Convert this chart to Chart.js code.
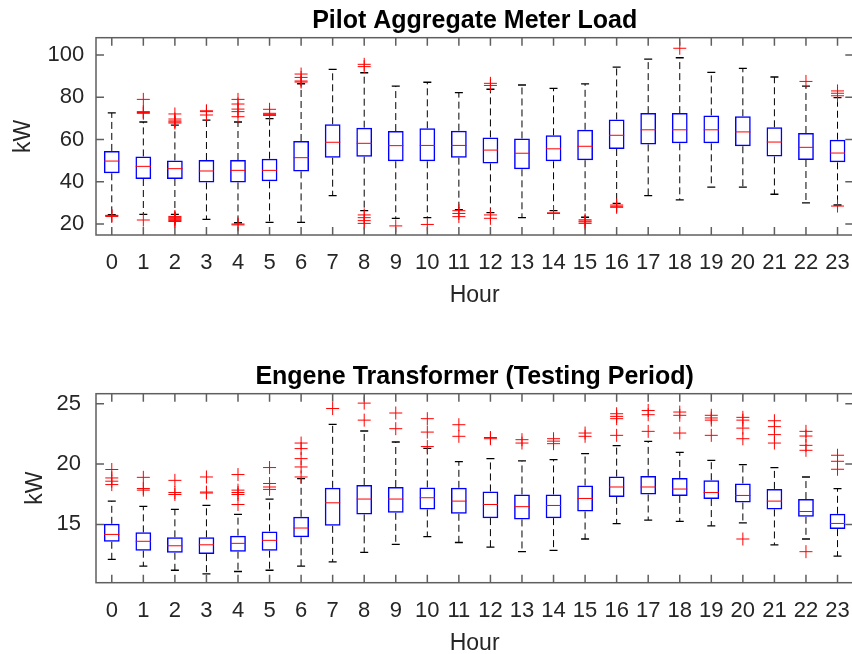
<!DOCTYPE html>
<html>
<head>
<meta charset="utf-8">
<script src="https://cdn.jsdelivr.net/npm/chart.js@4.4.1/dist/chart.umd.min.js"></script>
<style>
  html, body { margin: 0; padding: 0; background: #fff; overflow: hidden; }
  canvas { position: absolute; left: 0; }
</style>
</head>
<body>
<canvas id="loadChart" width="865" height="327" style="top:0px"></canvas>
<canvas id="engeneChart" width="865" height="327" style="top:356px"></canvas>
<script>
const hours = [0, 1, 2, 3, 4, 5, 6, 7, 8, 9, 10, 11, 12, 13, 14, 15, 16, 17, 18, 19, 20, 21, 22, 23];

// Pilot Aggregate Meter Load (kW)
const loadLo  = [24.4, 24.6, 24.6, 22.2, 20.6, 20.8, 20.8, 33.4, 26.3, 22.7, 23.0, 26.8, 25.4, 23.0, 26.3, 23.2, 29.8, 33.4, 31.4, 37.5, 37.5, 34.1, 30.0, 29.0];
const loadQ1  = [44.0, 41.3, 41.3, 39.7, 39.7, 40.2, 44.9, 51.4, 51.9, 49.7, 49.7, 51.4, 48.7, 45.9, 49.7, 50.2, 55.5, 57.7, 58.2, 58.2, 56.8, 52.0, 50.3, 49.2];
const loadMed = [49.8, 47.3, 46.2, 45.1, 45.4, 45.4, 51.4, 58.7, 58.2, 57.1, 57.2, 57.2, 55.0, 53.5, 55.6, 56.8, 62.0, 64.6, 64.6, 64.6, 63.6, 58.8, 56.3, 53.6];
const loadQ3  = [54.6, 52.0, 50.1, 50.3, 50.3, 50.9, 59.3, 67.2, 65.6, 64.0, 65.3, 64.2, 61.0, 60.5, 62.0, 64.6, 69.5, 72.5, 72.5, 71.4, 71.0, 65.8, 63.1, 59.9];
const loadHi  = [72.6, 68.3, 66.8, 69.2, 68.3, 69.9, 86.4, 93.2, 91.6, 85.3, 87.1, 82.2, 83.8, 85.8, 84.2, 86.3, 94.3, 98.1, 98.7, 91.8, 93.7, 89.6, 85.3, 79.8];
const loadOutHi = [
  [], [72.4, 72.8, 73.2, 79.0], [67.8, 68.3, 68.8, 69.7, 72.1], [71.6, 73.2, 73.6],
  [70.8, 73.2, 74.4, 76.8, 79.0], [71.4, 71.9, 72.4, 74.3], [87.2, 87.7, 89.4, 91.0], [],
  [94.5, 95.6], [], [], [], [85.6, 86.6], [], [], [], [], [], [103.2], [], [], [], [87.5],
  [80.7, 81.9, 83.0]
];
const loadOutLo = [
  [23.6, 23.9, 24.1], [21.9], [21.2, 21.6, 22.0, 22.4, 22.8, 23.2, 23.6], [], [19.6, 20.0],
  [], [], [], [20.3, 21.6, 23.0, 24.3], [19.1], [19.8], [23.5, 25.0, 26.3], [22.7, 24.3],
  [], [25.0, 25.3], [20.3, 21.0, 21.4, 22.0], [27.9, 28.4, 29.0], [], [], [], [], [], [],
  [28.5]
];
const loadTicks = [20, 40, 60, 80, 100];

// Engene Transformer, testing period (kW)
const engLo  = [12.1, 11.55, 11.2, 10.9, 11.1, 11.2, 11.55, 11.9, 12.69, 13.35, 13.98, 13.5, 13.12, 12.74, 12.85, 13.79, 15.07, 15.36, 15.25, 14.88, 15.13, 13.31, 13.79, 12.38];
const engQ1  = [13.56, 12.82, 12.65, 12.54, 12.74, 12.82, 13.93, 14.88, 15.83, 15.96, 16.24, 15.88, 15.52, 15.41, 15.52, 16.07, 17.28, 17.48, 17.36, 17.1, 16.82, 16.24, 15.63, 14.61];
const engMed = [14.17, 13.6, 13.23, 13.31, 13.43, 13.68, 14.7, 16.79, 17.1, 17.1, 17.21, 16.93, 16.65, 16.47, 16.57, 17.15, 18.1, 18.1, 17.93, 17.64, 17.4, 16.93, 16.07, 15.08];
const engQ3  = [15.05, 14.34, 13.93, 13.93, 14.07, 14.42, 15.63, 18.03, 18.27, 18.1, 18.06, 18.03, 17.73, 17.48, 17.48, 18.22, 18.96, 19.02, 18.85, 18.66, 18.39, 17.94, 17.1, 15.88];
const engHi  = [16.93, 16.5, 16.24, 16.57, 15.83, 17.1, 18.8, 23.29, 22.74, 21.83, 21.3, 20.2, 20.45, 20.26, 20.37, 20.87, 21.53, 21.88, 20.97, 20.31, 19.96, 19.71, 18.93, 17.97];
const engOutHi = [
  [18.3, 18.58, 18.85, 19.55], [17.84, 17.97, 18.9], [17.48, 17.64, 18.65], [17.6, 17.68, 18.93],
  [16.65, 17.48, 17.64, 17.84, 19.13], [17.9, 18.1, 18.39, 19.71], [18.93, 19.76, 20.45, 21.28, 21.74],
  [24.6], [23.64, 25.05], [22.93, 24.23], [21.45, 22.65, 23.76], [22.3, 23.26], [22.1, 22.2],
  [21.74, 22.02], [21.69, 21.9, 22.1], [22.3, 22.57], [22.38, 23.76, 23.95, 24.17],
  [22.71, 24.09, 24.44], [22.57, 24.04, 24.31], [22.38, 23.64, 23.82, 24.04],
  [22.1, 22.98, 23.64, 23.87], [21.74, 22.44, 23.1, 23.59], [21.14, 21.55, 22.32, 22.71],
  [19.57, 20.23, 20.73]
];
const engOutLo = [
  [], [], [], [], [], [], [], [], [], [], [], [], [], [], [], [], [], [], [], [], [13.79], [], [12.74], []
];
const engTicks = [15, 20, 25];

const FONT = '"Liberation Sans", Arial, Helvetica, sans-serif';
const TEXT = '#262626';

// frame with inward ticks, like the original axes box
const axesFrame = {
  id: 'axesFrame',
  afterDatasetsDraw(chart) {
    const {ctx, chartArea: a, scales: {x, y}} = chart;
    ctx.save();
    ctx.strokeStyle = '#5f5f5f';
    ctx.lineWidth = 1.5;
    ctx.strokeRect(a.left, a.top, a.right - a.left, a.bottom - a.top);
    ctx.beginPath();
    x.ticks.forEach(t => {
      const px = x.getPixelForValue(t.value);
      ctx.moveTo(px, a.bottom); ctx.lineTo(px, a.bottom - 8);
      ctx.moveTo(px, a.top); ctx.lineTo(px, a.top + 8);
    });
    y.ticks.forEach(t => {
      const py = y.getPixelForValue(t.value);
      ctx.moveTo(a.left, py); ctx.lineTo(a.left + 8, py);
      ctx.moveTo(a.right, py); ctx.lineTo(a.right - 8, py);
    });
    ctx.stroke();
    ctx.restore();
  }
};

function boxDatasets(lo, q1, med, q3, hi, outHi, outLo) {
  const whiskers = [];
  const caps = [];
  const outliers = [];
  hours.forEach((h, i) => {
    whiskers.push({x: h, y: q3[i]}, {x: h, y: hi[i]}, {x: h, y: null});
    whiskers.push({x: h, y: q1[i]}, {x: h, y: lo[i]}, {x: h, y: null});
    caps.push({x: h, y: hi[i]}, {x: h, y: lo[i]});
    outHi[i].forEach(v => outliers.push({x: h, y: v}));
    outLo[i].forEach(v => outliers.push({x: h, y: v}));
  });
  return [
    {
      type: 'line', data: whiskers, order: 4,
      borderColor: '#000', borderWidth: 1, borderDash: [7, 4],
      pointRadius: 0, spanGaps: false, fill: false
    },
    {
      type: 'bar', order: 3,
      data: hours.map((h, i) => ({x: h, y: [q1[i], q3[i]]})),
      backgroundColor: 'rgba(0,0,0,0)', borderColor: '#0000ff', borderWidth: 1.5,
      borderSkipped: false, barPercentage: 0.5, categoryPercentage: 1
    },
    {
      type: 'scatter', data: caps, order: 2,
      pointStyle: 'line', pointRadius: 4, pointHoverRadius: 4,
      borderColor: '#000', borderWidth: 1.3
    },
    {
      type: 'scatter', order: 1,
      data: hours.map((h, i) => ({x: h, y: med[i]})),
      pointStyle: 'line', pointRadius: 7.6, pointHoverRadius: 7.6,
      borderColor: '#ff0000', borderWidth: 1
    },
    {
      type: 'scatter', data: outliers, order: 0,
      pointStyle: 'cross', pointRadius: 6.5, pointHoverRadius: 6.5,
      borderColor: '#ff0000', borderWidth: 1
    }
  ];
}

function makeChart(id, cfg) {
  return new Chart(document.getElementById(id), {
    type: 'bar',
    data: { datasets: cfg.datasets },
    options: {
      responsive: false,
      animation: false,
      layout: { padding: { left: 0, right: 7, top: 0, bottom: 0 } },
      plugins: {
        legend: { display: false },
        tooltip: { enabled: false },
        title: {
          display: true, text: cfg.title, fullSize: false, color: '#000',
          font: { family: FONT, size: 25, weight: 'bold' },
          padding: { top: 6.5, bottom: 1.2 }
        }
      },
      scales: {
        x: {
          type: 'linear', min: -0.5, max: 23.5, offset: false,
          grid: { display: false, drawTicks: false },
          border: { display: false },
          afterBuildTicks: s => { s.ticks = hours.map(h => ({value: h})); },
          afterFit: s => { s.height = cfg.xHeight; },
          ticks: { autoSkip: false, maxRotation: 0, padding: 15, color: TEXT, font: { family: FONT, size: 22 } },
          title: { display: true, text: 'Hour', color: TEXT, font: { family: FONT, size: 23 }, padding: { top: 0, bottom: cfg.hourPad } }
        },
        y: {
          min: cfg.yMin, max: cfg.yMax,
          grid: { display: false, drawTicks: false },
          border: { display: false },
          afterBuildTicks: s => { s.ticks = cfg.yTicks.map(v => ({value: v})); },
          afterFit: s => { s.width = 96; },
          ticks: { padding: cfg.yPad, color: TEXT, font: { family: FONT, size: 22 } },
          title: { display: true, text: 'kW', color: TEXT, font: { family: FONT, size: 23 }, padding: { top: cfg.kwPad, bottom: 0 } }
        }
      }
    },
    plugins: [axesFrame]
  });
}

makeChart('loadChart', {
  title: 'Pilot Aggregate Meter Load',
  datasets: boxDatasets(loadLo, loadQ1, loadMed, loadQ3, loadHi, loadOutHi, loadOutLo),
  yMin: 14.8, yMax: 108.2, yTicks: loadTicks,
  xHeight: 92, hourPad: 17.9, yPad: 11.7, kwPad: 9.4
});

makeChart('engeneChart', {
  title: 'Engene Transformer (Testing Period)',
  datasets: boxDatasets(engLo, engQ1, engMed, engQ3, engHi, engOutHi, engOutLo),
  yMin: 10.17, yMax: 25.83, yTicks: engTicks,
  xHeight: 100.3, hourPad: 25.4, yPad: 15, kwPad: 22.2
});
</script>
</body>
</html>
